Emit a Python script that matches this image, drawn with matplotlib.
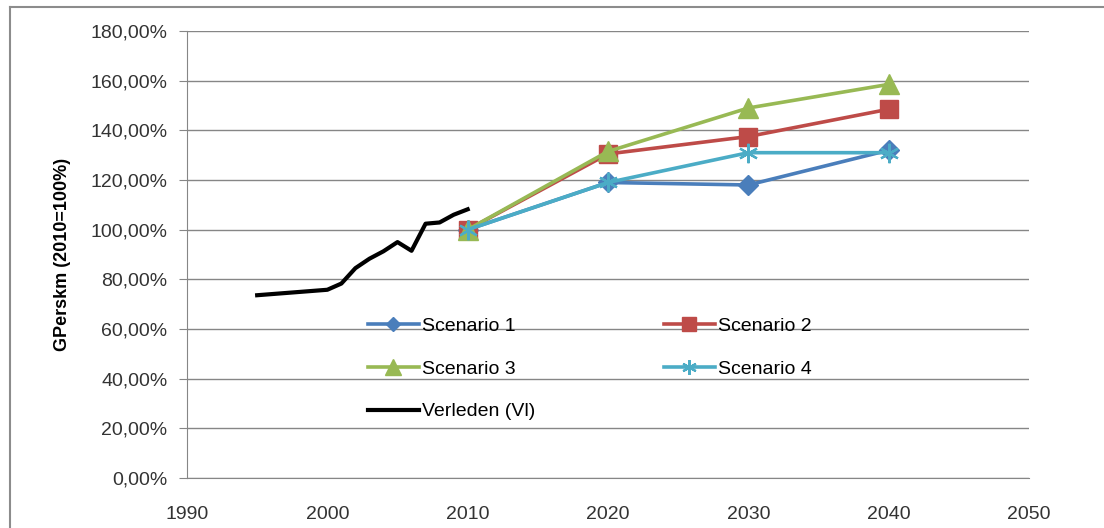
import matplotlib
matplotlib.use("Agg")
import matplotlib.pyplot as plt
from matplotlib.lines import Line2D
from matplotlib.ticker import FuncFormatter

# scenario data (index, 2010 = 100%)
years = [2010, 2020, 2030, 2040]
scen1 = [100.0, 119.0, 118.0, 132.0]
scen2 = [100.0, 130.5, 137.5, 148.5]
scen3 = [100.0, 131.5, 149.0, 158.5]
scen4 = [100.0, 119.0, 131.0, 131.0]

# historical series
past_years = [1995, 2000, 2001, 2002, 2003, 2004, 2005, 2006, 2007, 2008, 2009, 2010]
past_vals = [73.6, 75.8, 78.3, 84.5, 88.3, 91.3, 95.0, 91.5, 102.4, 102.9, 106.0, 108.2]

plt.rcParams['font.family'] = ['Liberation Sans', 'DejaVu Sans']

fig = plt.figure(figsize=(11.04, 5.28), dpi=100)
ax = fig.add_axes([187/1104, 1-478/528, (1029-187)/1104, (478-31)/528])

grid_col = '#868686'
lw = 2.6
h1, = ax.plot(years, scen1, color='#4A7EBB', lw=lw, marker='D', ms=10, label='Scenario 1')
h2, = ax.plot(years, scen2, color='#BE4B48', lw=lw, marker='s', ms=13, label='Scenario 2')
h3, = ax.plot(years, scen3, color='#98B954', lw=lw, marker='^', ms=15, label='Scenario 3')
h4, = ax.plot(years, scen4, color='#4BACC6', lw=lw, marker=(6, 2, 0), ms=14, mew=1.6, label='Scenario 4')
h5, = ax.plot(past_years, past_vals, color='black', lw=3.0, label='Verleden (Vl)')

ax.set_xlim(1990, 2050)
ax.set_ylim(0, 180)
ax.set_xticks(range(1990, 2051, 10))
ax.set_yticks(range(0, 181, 20))
ax.yaxis.set_major_formatter(FuncFormatter(lambda v, p: ('%.2f%%' % v).replace('.', ',')))
ax.grid(axis='y', color=grid_col, lw=1)
ax.set_axisbelow(True)
for s in ['top', 'right']:
    ax.spines[s].set_visible(False)
for s in ['left', 'bottom']:
    ax.spines[s].set_color(grid_col)
ax.tick_params(axis='y', length=6, color=grid_col, labelsize=14, pad=8, labelcolor='#333333')
ax.tick_params(axis='x', length=0, labelsize=14, pad=20, labelcolor='#333333')

ax.set_ylabel('GPerskm (2010=100%)', fontsize=13, fontweight='bold', labelpad=14)

# legend filled row by row
ax.legend([h1, h3, h5, h2, h4], ['Scenario 1', 'Scenario 3', 'Verleden (Vl)', 'Scenario 2', 'Scenario 4'],
          ncol=2, frameon=False, fontsize=14, loc='upper left',
          bbox_to_anchor=((368-187)/842, (478-317)/447),
          handlelength=2.6, columnspacing=6.6, labelspacing=1.3, handletextpad=0.2,
          markerscale=0.75, borderaxespad=0, borderpad=0)

# chart area border
fig.add_artist(Line2D([10/1104, 10/1104], [0, 1-7/528], color='#8c8c8c', lw=1.5))
fig.add_artist(Line2D([10/1104, 1], [1-7/528, 1-7/528], color='#8c8c8c', lw=1.5))

fig.savefig('out.png', dpi=100)
